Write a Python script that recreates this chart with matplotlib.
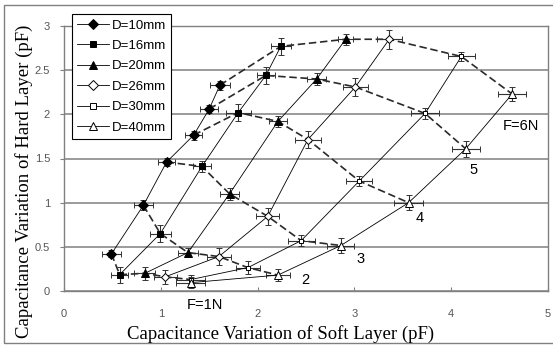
import numpy as np
import matplotlib.pyplot as plt
from matplotlib.patches import Rectangle
from matplotlib.lines import Line2D

# series labels (one series per sensor distance D), points ordered F=1N..6N
labels = ['D=10mm', 'D=16mm', 'D=20mm', 'D=26mm', 'D=30mm', 'D=40mm']
force_labels = ['F=1N', '2', '3', '4', '5', 'F=6N']

# capacitance variation of soft layer (pF)
soft_d10 = [0.49, 0.82, 1.06, 1.34, 1.50, 1.61]
soft_d16 = [0.575, 0.995, 1.425, 1.80, 2.085, 2.24]
soft_d20 = [0.835, 1.28, 1.71, 2.21, 2.61, 2.91]
soft_d26 = [1.045, 1.60, 2.105, 2.52, 3.01, 3.36]
soft_d30 = [1.31, 1.90, 2.45, 3.05, 3.73, 4.105]
soft_d40 = [1.31, 2.21, 2.86, 3.56, 4.15, 4.63]

# capacitance variation of hard layer (pF)
hard_d10 = [0.42, 0.97, 1.46, 1.765, 2.06, 2.33]
hard_d16 = [0.185, 0.65, 1.41, 2.02, 2.44, 2.77]
hard_d20 = [0.20, 0.435, 1.10, 1.92, 2.40, 2.85]
hard_d26 = [0.16, 0.39, 0.845, 1.715, 2.31, 2.85]
hard_d30 = [0.13, 0.265, 0.57, 1.245, 2.01, 2.655]
hard_d40 = [0.095, 0.18, 0.515, 1.00, 1.61, 2.23]

# error bars
xerr_d10 = [0.10, 0.10, 0.09, 0.09, 0.09, 0.10]
xerr_d16 = [0.085, 0.11, 0.095, 0.13, 0.095, 0.10]
xerr_d20 = [0.11, 0.10, 0.10, 0.09, 0.10, 0.08]
xerr_d26 = [0.12, 0.125, 0.12, 0.13, 0.13, 0.13]
xerr_d30 = [0.15, 0.12, 0.14, 0.135, 0.145, 0.14]
xerr_d40 = [0.15, 0.125, 0.14, 0.15, 0.145, 0.145]

yerr_d10 = [0.04, 0.055, 0.05, 0.05, 0.05, 0.05]
yerr_d16 = [0.09, 0.10, 0.06, 0.10, 0.095, 0.095]
yerr_d20 = [0.075, 0.05, 0.07, 0.06, 0.065, 0.06]
yerr_d26 = [0.08, 0.10, 0.095, 0.10, 0.10, 0.11]
yerr_d30 = [0.055, 0.07, 0.06, 0.055, 0.065, 0.055]
yerr_d40 = [0.065, 0.07, 0.08, 0.085, 0.09, 0.08]

x_ticks = [0, 1, 2, 3, 4, 5]
y_ticks = [0, 0.5, 1, 1.5, 2, 2.5, 3]
y_ticklabels = ['0', '0.5', '1', '1.5', '2', '2.5', '3']

soft = [soft_d10, soft_d16, soft_d20, soft_d26, soft_d30, soft_d40]
hard = [hard_d10, hard_d16, hard_d20, hard_d26, hard_d30, hard_d40]
xerrs = [xerr_d10, xerr_d16, xerr_d20, xerr_d26, xerr_d30, xerr_d40]
yerrs = [yerr_d10, yerr_d16, yerr_d20, yerr_d26, yerr_d30, yerr_d40]

# marker styles: (marker, size, filled)
styles = [('D', 5, True), ('s', 4.5, True), ('^', 5.5, True),
          ('D', 4.2, False), ('s', 3.5, False), ('^', 5.5, False)]

fig = plt.figure(figsize=(5.53, 3.49), dpi=100)
ax = fig.add_axes([64/553, 1-291/349, (548-64)/553, (291-26)/349])

# dashed lines: same force across sensor distances
for i in range(len(force_labels)):
    fx = [s[i] for s in soft]
    fy = [h[i] for h in hard]
    ax.plot(fx, fy, color='#2a2a2a', lw=1.2, ls=(0, (4.5, 2.2)), zorder=2)

# solid lines + error bars: one series per D
handles = []
for sx, hy, ex, ey, lab, (mk, ms, filled) in zip(soft, hard, xerrs, yerrs, labels, styles):
    mfc = 'black' if filled else 'white'
    ax.errorbar(sx, hy, xerr=ex, yerr=ey, fmt='-', color='black', lw=0.6,
                ecolor='#333333', elinewidth=0.8, capsize=2.2, capthick=0.8,
                marker=mk, ms=ms, mfc=mfc, mec='black', mew=0.7, zorder=3)
    handles.append(Line2D([], [], color='black', lw=0.6, marker=mk, ms=ms + 0.5,
                          mfc=mfc, mec='black', mew=0.7, label=lab))

# force annotations
ax.text(1.46, -0.16, force_labels[0], fontsize=10.5, ha='center', va='center',
        family='Liberation Sans', clip_on=False)
ax.text(2.49, 0.12, force_labels[1], fontsize=10.5, ha='center', va='center', family='Liberation Sans')
ax.text(3.06, 0.36, force_labels[2], fontsize=10.5, ha='center', va='center', family='Liberation Sans')
ax.text(3.675, 0.83, force_labels[3], fontsize=10.5, ha='center', va='center', family='Liberation Sans')
ax.text(4.23, 1.375, force_labels[4], fontsize=10.5, ha='center', va='center', family='Liberation Sans')
ax.text(4.72, 1.87, force_labels[5], fontsize=10.5, ha='center', va='center', family='Liberation Sans')

ax.set_xlim(0, 5)
ax.set_ylim(0, 3)
ax.set_xticks(x_ticks)
ax.set_yticks(y_ticks)
ax.set_yticklabels(y_ticklabels)
ax.yaxis.grid(True, color='#8a8a8a', lw=1.2)
ax.set_axisbelow(True)
for sp in ax.spines.values():
    sp.set_color('#808080')
    sp.set_linewidth(1.0)
ax.tick_params(axis='x', direction='in', length=3, color='#808080', pad=13,
               labelsize=8, labelcolor='#555555')
ax.tick_params(axis='y', direction='out', length=3, color='#808080', pad=7,
               labelsize=8, labelcolor='#555555')
for t in ax.get_xticklabels() + ax.get_yticklabels():
    t.set_family('Liberation Sans')

fig.text(281/553, 1-339/349, 'Capacitance Variation of Soft Layer (pF)',
         family='Liberation Serif', fontsize=13.5, ha='center', va='baseline')
fig.text(24/553, 1-181/349, 'Capacitance Variation of Hard Layer (pF)',
         family='Liberation Serif', fontsize=13.5, ha='center', va='center',
         rotation=90)

leg = fig.legend(handles=handles, loc='upper left',
                 bbox_to_anchor=(72/553, 1-14/349),
                 prop={'family': 'Liberation Sans', 'size': 9.5},
                 frameon=True, fancybox=False, edgecolor='black', framealpha=1,
                 handlelength=2.4, handletextpad=0.2, labelspacing=0.62,
                 borderpad=0.4, borderaxespad=0)
leg.get_frame().set_linewidth(0.8)

fig.add_artist(Rectangle((4/553, 1-343/349), 1.2, (343-5)/349,
                         transform=fig.transFigure, fill=False,
                         edgecolor='#808080', lw=1.0))

fig.savefig('out.png', dpi=100)
